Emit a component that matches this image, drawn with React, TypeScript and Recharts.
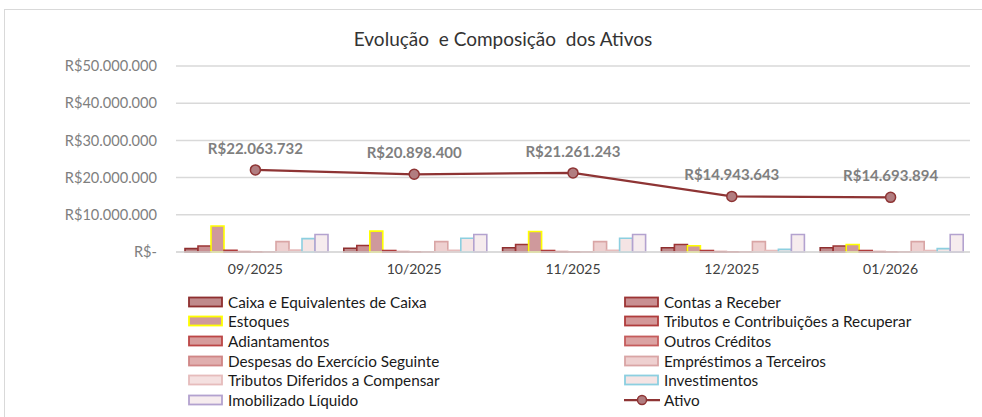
import React from "react";
import {
  ComposedChart,
  Bar,
  Line,
  XAxis,
  YAxis,
  CartesianGrid,
  LabelList,
} from "recharts";

const categories = ["09/2025", "10/2025", "11/2025", "12/2025", "01/2026"];

const caixa = [900000, 1000000, 1150000, 1150000, 1150000];
const contasReceber = [1600000, 1750000, 2000000, 2000000, 1600000];
const estoques = [7000000, 5600000, 5500000, 1700000, 2000000];
const tributosRecuperar = [450000, 400000, 400000, 400000, 400000];
const adiantamentos = [100000, 100000, 100000, 100000, 100000];
const outrosCreditos = [50000, 50000, 50000, 50000, 50000];
const despesasExercicio = [60000, 60000, 60000, 60000, 60000];
const emprestimos = [2800000, 2800000, 2800000, 2800000, 2800000];
const tributosDiferidos = [500000, 450000, 450000, 400000, 400000];
const investimentos = [3600000, 3700000, 3700000, 700000, 900000];
const imobilizado = [4700000, 4700000, 4700000, 4700000, 4700000];
const ativo = [22063732, 20898400, 21261243, 14943643, 14693894];

const yTicks = [0, 10000000, 20000000, 30000000, 40000000, 50000000];

// bar series in Excel order: key, label, fill, border
const SERIES = [
  { key: "caixa", name: "Caixa e Equivalentes de Caixa", values: caixa, fill: "#c08a8c", stroke: "#8e2f2f" },
  { key: "contas", name: "Contas a Receber", values: contasReceber, fill: "#c98f92", stroke: "#9c3434" },
  { key: "estoques", name: "Estoques", values: estoques, fill: "#cf999c", stroke: "#ffff00" },
  { key: "tribRec", name: "Tributos e Contribuições a Recuperar", values: tributosRecuperar, fill: "#d39899", stroke: "#b03c3c" },
  { key: "adiant", name: "Adiantamentos", values: adiantamentos, fill: "#d69c9c", stroke: "#bc4646" },
  { key: "outros", name: "Outros Créditos", values: outrosCreditos, fill: "#dba3a3", stroke: "#c55c5c" },
  { key: "despesas", name: "Despesas do Exercício Seguinte", values: despesasExercicio, fill: "#e0aeae", stroke: "#d08686" },
  { key: "emprest", name: "Empréstimos a Terceiros", values: emprestimos, fill: "#eed0d0", stroke: "#d9a5a5" },
  { key: "tribDif", name: "Tributos Diferidos a Compensar", values: tributosDiferidos, fill: "#f4e0e0", stroke: "#e6bcbc" },
  { key: "invest", name: "Investimentos", values: investimentos, fill: "#f5e4e4", stroke: "#8ccfe0" },
  { key: "imob", name: "Imobilizado Líquido", values: imobilizado, fill: "#f6ecee", stroke: "#b3a2cf" },
];

const LINE_COLOR = "#8e3434";
const DOT_FILL = "#b17d80";
const FONT = "Lato, 'Open Sans', sans-serif";

const data = categories.map((c, i) => {
  const row: any = { cat: c, ativo: ativo[i] };
  SERIES.forEach((s) => (row[s.key] = s.values[i]));
  return row;
});

const fmtBRL = (v: number) => {
  if (!v) return "R$-";
  return "R$" + Math.round(v).toString().replace(/\B(?=(\d{3})+(?!\d))/g, ".");
};

const legendItems = [...SERIES.map((s) => ({ ...s, line: false })), { key: "ativo", name: "Ativo", fill: DOT_FILL, stroke: LINE_COLOR, line: true }];

const LegendSwatch = ({ item }: any) =>
  item.line ? (
    <svg width={36} height={12} style={{ display: "block" }}>
      <line x1={0} y1={6} x2={36} y2={6} stroke={item.stroke} strokeWidth={2.25} />
      <circle cx={18} cy={6} r={4.5} fill={item.fill} stroke={item.stroke} strokeWidth={1.5} />
    </svg>
  ) : (
    <svg width={36} height={12} style={{ display: "block" }}>
      <rect x={1} y={1.5} width={33} height={9} fill={item.fill} stroke={item.stroke} strokeWidth={1.8} />
    </svg>
  );

export default function App() {
  return (
    <div
      style={{
        position: "absolute",
        left: 0,
        top: 0,
        width: 982,
        height: 417,
        overflow: "hidden",
        background: "#fff",
        fontFamily: FONT,
      }}
    >
      <div
        style={{
          position: "absolute",
          left: 4,
          top: 9,
          width: 1000,
          height: 500,
          border: "1px solid #d9d9d9",
        }}
      />
      <div
        style={{
          position: "absolute",
          left: 0,
          top: 27,
          width: 1006,
          textAlign: "center",
          fontSize: 19,
          color: "#333",
          whiteSpace: "pre",
        }}
      >
        {"Evolução  e Composição  dos Ativos"}
      </div>
      <div style={{ position: "absolute", left: 0, top: 0 }}>
        <ComposedChart
          width={982}
          height={290}
          data={data}
          margin={{ top: 66, right: 12, left: 0, bottom: 8 }}
          barCategoryGap={9}
          barGap={0}
        >
          <CartesianGrid vertical={false} stroke="#d9d9d9" strokeWidth={1.5} />
          <XAxis
            dataKey="cat"
            height={30}
            tickLine={false}
            axisLine={{ stroke: "#d9d9d9", strokeWidth: 1.5 }}
            tick={{ fill: "#404040", fontSize: 14, fontFamily: FONT }}
            tickMargin={6}
          />
          <YAxis
            width={176}
            domain={[0, 50000000]}
            ticks={yTicks}
            tickFormatter={fmtBRL}
            tickLine={false}
            axisLine={false}
            tickMargin={13}
            tick={{ fill: "#7f7f7f", fontSize: 14.6, fontFamily: FONT }}
          />
          {SERIES.map((s) => (
            <Bar
              key={s.key}
              dataKey={s.key}
              name={s.name}
              fill={s.fill}
              stroke={s.stroke}
              strokeWidth={1.6}
              isAnimationActive={false}
            />
          ))}
          <Line
            dataKey="ativo"
            name="Ativo"
            stroke={LINE_COLOR}
            strokeWidth={2.25}
            dot={{ r: 5, fill: DOT_FILL, stroke: LINE_COLOR, strokeWidth: 1.5 }}
            isAnimationActive={false}
          >
            <LabelList
              dataKey="ativo"
              position="top"
              offset={16}
              formatter={(v: any) => fmtBRL(Number(v))}
              style={{ fill: "#7f7f7f", fontSize: 15, fontWeight: 700, fontFamily: FONT }}
            />
          </Line>
        </ComposedChart>
      </div>
      {/* two-column legend like Excel */}
      <div
        style={{
          position: "absolute",
          left: 188,
          top: 293,
          width: 780,
          display: "grid",
          gridTemplateColumns: "436px 340px",
          rowGap: 2.7,
          fontSize: 15.3,
          color: "#1a1a1a",
        }}
      >
        {legendItems.map((it) => (
          <div key={it.key} style={{ display: "flex", alignItems: "center", height: 17, gap: 4 }}>
            <LegendSwatch item={it} />
            <span style={{ whiteSpace: "nowrap" }}>{it.name}</span>
          </div>
        ))}
      </div>
    </div>
  );
}
